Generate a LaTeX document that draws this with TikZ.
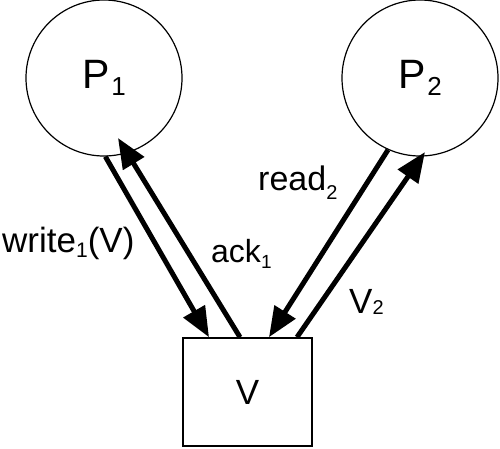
\documentclass[tikz,border=0pt]{standalone}
\usepackage{fontspec}
\setmainfont{Liberation Sans}
\usetikzlibrary{arrows.meta}
\newcommand{\lsub}[3]{\raisebox{-#2}{\fontsize{#1}{#1}\selectfont #3}}
\begin{document}
\begin{tikzpicture}[x=1pt,y=-1pt,
  proc/.style={circle,draw,line width=1.2pt,minimum size=156pt,inner sep=0pt,
    font=\fontsize{41}{41}\selectfont},
  store/.style={rectangle,draw,line width=1.6pt,minimum width=129pt,
    minimum height=108pt,inner sep=0pt,font=\fontsize{35}{35}\selectfont},
  msg/.style={line width=5pt,-{Triangle[length=30pt,width=24pt]}},
  lbl/.style={inner sep=0pt,anchor=base west}]
\useasboundingbox (0,0) rectangle (500,448);
\node[proc] (p1) at (104,78) {P\kern2pt\lsub{26pt}{7pt}{1}};
\node[proc] (p2) at (420,78) {P\kern2pt\lsub{26pt}{7pt}{2}};
\node[store] (v) at (247.5,392) {V};
\draw[msg] (p1.-89) -- ([xshift=-38.5pt]v.north);
\draw[msg] ([xshift=-7.5pt]v.north) -- ([xshift=14pt,yshift=-60pt]p1.center);
\draw[msg] (p2.-114) -- ([xshift=21.5pt]v.north);
\draw[msg] ([xshift=49.5pt]v.north) -- ([xshift=5pt,yshift=-74pt]p2.center);
\node[lbl,font=\fontsize{35}{35}\selectfont] (lw) at (2,252) {write\lsub{21pt}{5pt}{1}(V)};
\node[lbl,font=\fontsize{32}{32}\selectfont] (la) at (211,262) {ack\lsub{19pt}{6pt}{1}};
\node[lbl,font=\fontsize{34}{34}\selectfont] (lr) at (258,190) {read\lsub{20pt}{9pt}{2}};
\node[lbl,font=\fontsize{35}{35}\selectfont] (lv) at (349,313) {V\lsub{20pt}{1pt}{2}};
\end{tikzpicture}
\end{document}
